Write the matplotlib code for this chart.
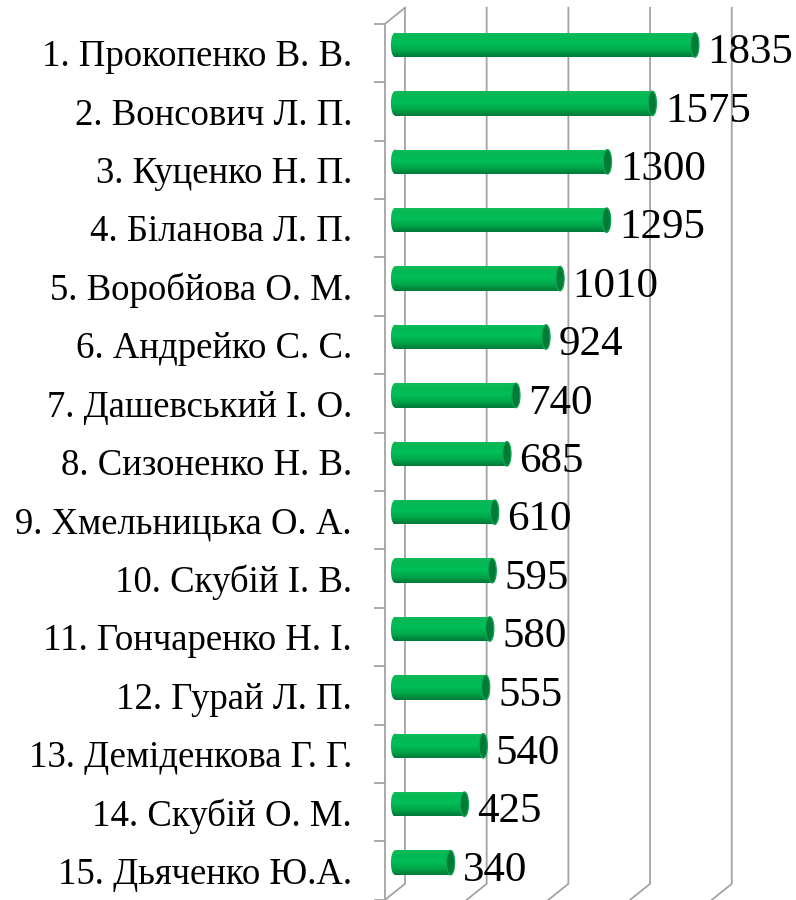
import matplotlib
matplotlib.use('Agg')
import matplotlib.pyplot as plt
import numpy as np
from matplotlib.patches import Ellipse, Rectangle
from matplotlib.colors import LinearSegmentedColormap

## дані
names = ['1. Прокопенко В. В.', '2. Вонсович Л. П.', '3. Куценко Н. П. ',
         '4. Біланова Л. П.', '5. Воробйова О. М.', '6. Андрейко С. С.',
         '7. Дашевський І. О.', '8. Сизоненко Н. В.', '9. Хмельницька О. А.',
         '10. Скубій І. В.', '11. Гончаренко Н. І.', '12. Гурай Л. П.',
         '13. Деміденкова Г. Г.', '14. Скубій О. М.', '15. Дьяченко Ю.А.']
values = [1835, 1575, 1300, 1295, 1010, 924, 740, 685, 610, 595, 580, 555, 540, 425, 340]
grid_values = [0, 500, 1000, 1500, 2000]

plt.rcParams['font.family'] = ['Liberation Serif', 'DejaVu Serif']

fig = plt.figure(figsize=(7.96, 9), dpi=100)
ax = fig.add_axes([0, 0, 1, 1])
ax.set_axis_off()

n = len(names)
pos = np.arange(n)

## псевдо-3D зміщення (глибина)
dx = 61      # в одиницях значень
dy = 0.137   # в категоріях
bar_h = 0.42
cap_w = 50

grid_col = '#a3a3a3'
lw = 1.3

## сітка: задня стінка + підлога
for g in grid_values:
    ax.plot([g + dx, g + dx, g - dx], [-0.5 - dy, n - 0.5 - dy, n - 0.5 + dy],
            color=grid_col, lw=lw, zorder=1, solid_joinstyle='miter')
## верхнє ребро лівої стінки та сама стінка
ax.plot([dx, -dx, -dx], [-0.5 - dy, -0.5 + dy, n - 0.5 + dy],
        color=grid_col, lw=lw, zorder=1)
## поділки на лівій стінці
for k in range(n + 1):
    ax.plot([-2 * dx, -dx], [k - 0.5 + dy, k - 0.5 + dy], color=grid_col, lw=lw, zorder=1)

## циліндри
cmap = LinearSegmentedColormap.from_list(
    'cyl', [(0, '#10bb58'), (0.2, '#05b853'), (0.45, '#00bf5a'),
            (0.75, '#00a547'), (1, '#00783a')])
grad = np.linspace(0, 1, 64).reshape(-1, 1)

for y, v in zip(pos, values):
    rect = Rectangle((0, y - bar_h / 2), v, bar_h, transform=ax.transData)
    im = ax.imshow(grad, extent=[-cap_w, v, y + bar_h / 2, y - bar_h / 2],
                   aspect='auto', cmap=cmap, zorder=3, interpolation='bilinear')
    im.set_clip_path(rect)
    left = Ellipse((0, y), cap_w, bar_h, transform=ax.transData)
    im2 = ax.imshow(grad, extent=[-cap_w, v, y + bar_h / 2, y - bar_h / 2],
                    aspect='auto', cmap=cmap, zorder=3, interpolation='bilinear')
    im2.set_clip_path(left)
    ax.add_patch(Ellipse((v, y), cap_w, bar_h, facecolor='#007c36',
                         edgecolor='#11a553', lw=0.9, zorder=4))
    ax.annotate(str(v), xy=(v, y), xytext=(9, -2.5), textcoords='offset points',
                ha='left', va='center_baseline', fontsize=31, color='black', zorder=5)

## підписи категорій
for y, name in zip(pos, names):
    ax.text(-263, y + dy, name.rstrip(), ha='right', va='center_baseline',
            fontsize=26.5, color='black')

ax.set_xlim(-2417, 2454)
ax.set_ylim(14.64, -0.77)

plt.savefig('out.png', dpi=100)
